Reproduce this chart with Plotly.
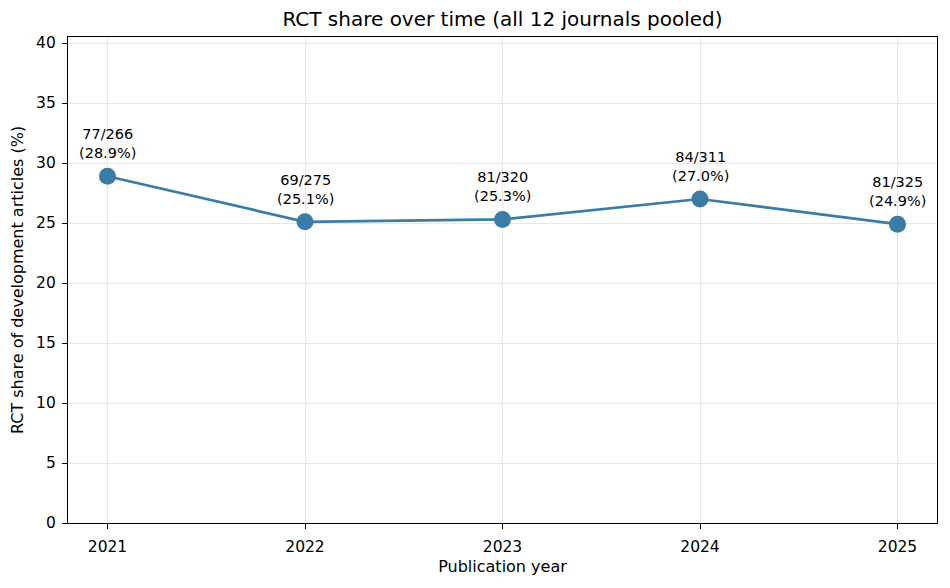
import plotly.graph_objects as go

years = [2021, 2022, 2023, 2024, 2025]
rct_counts = [77, 69, 81, 84, 81]
total_counts = [266, 275, 320, 311, 325]
shares = [28.9, 25.1, 25.3, 27.0, 24.9]
y_ticks = [0, 5, 10, 15, 20, 25, 30, 35, 40]

color = "#3a7ca5"
font = "DejaVu Sans"

fig = go.Figure()
fig.add_trace(go.Scatter(
    x=years, y=shares, mode="lines+markers",
    line=dict(color=color, width=2.7),
    marker=dict(color=color, size=17),
    showlegend=False, hoverinfo="skip",
))

for x, y, r, t in zip(years, shares, rct_counts, total_counts):
    fig.add_annotation(
        x=x, y=y, text=f"{r}/{t}<br>({y:.1f}%)", showarrow=False,
        yanchor="bottom", yshift=13,
        font=dict(family=font, size=14.5, color="black"),
    )

axis_common = dict(
    showline=True, linecolor="black", linewidth=1.2, mirror=True,
    ticks="outside", ticklen=5, tickcolor="black",
    showgrid=True, gridcolor="#e6e6e6", gridwidth=1,
    zeroline=False,
    tickfont=dict(family=font, size=15.5, color="black"),
)

fig.update_xaxes(
    range=[2020.8, 2025.2], tickvals=years, ticktext=[str(y) for y in years],
    ticklabelstandoff=4,
    title=dict(text="Publication year", font=dict(family=font, size=16, color="black"), standoff=6),
    **axis_common,
)
fig.update_yaxes(
    range=[0, 40.5], tickvals=y_ticks,
    ticklabelstandoff=3,
    title=dict(text="RCT share of development articles (%)", font=dict(family=font, size=16, color="black"), standoff=8),
    **axis_common,
)

fig.update_layout(
    width=950, height=588,
    margin=dict(l=68, r=13, t=37, b=65),
    paper_bgcolor="white", plot_bgcolor="white",
    title=dict(text="RCT share over time (all 12 journals pooled)", x=0.5, xanchor="center",
               xref="paper",
               y=1 - 19/588, yanchor="middle",
               font=dict(family=font, size=20, color="black")),
)

fig.write_html("out.html")
